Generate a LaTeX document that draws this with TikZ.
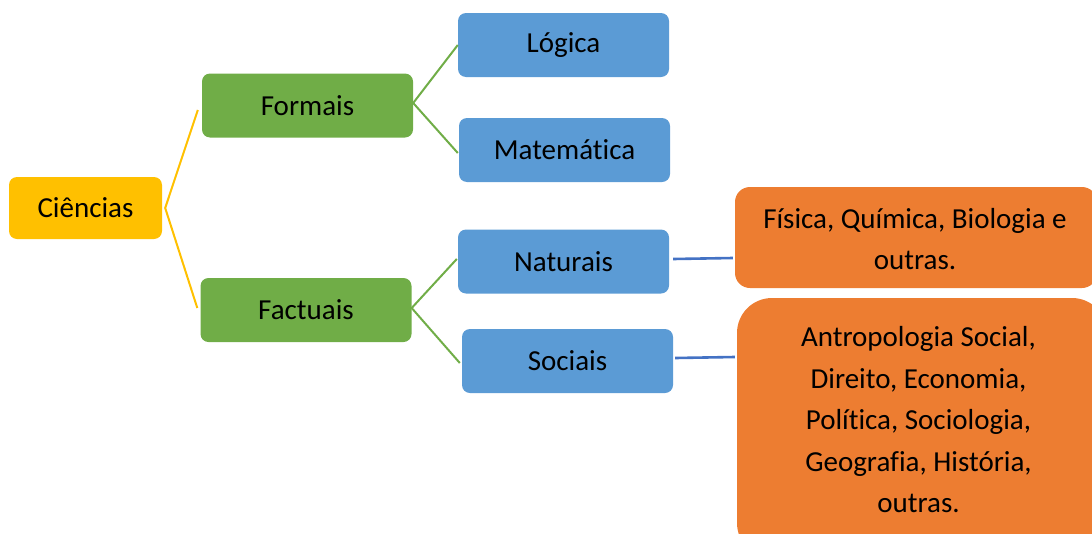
\documentclass[tikz,border=0pt]{standalone}
\usepackage{fontspec}
\setmainfont[Ligatures={NoCommon}]{Carlito}
\definecolor{cyellow}{HTML}{FFC000}
\definecolor{cgreen}{HTML}{70AD47}
\definecolor{cblue}{HTML}{5B9BD5}
\definecolor{corange}{HTML}{ED7D31}
\definecolor{clink}{HTML}{4472C4}
\tikzset{
  box/.style={rounded corners=8pt, inner sep=0pt, minimum width=211pt, minimum height=64pt, font=\fontsize{29}{35}\selectfont, text=black},
  ybox/.style={box, fill=cyellow, minimum width=153pt, minimum height=62pt},
  gbox/.style={box, fill=cgreen},
  bbox/.style={box, fill=cblue},
  obox/.style={inner sep=0pt, fill=corange},
  otext/.style={font=\fontsize{29}{41.5}\selectfont, align=center, inner sep=0pt, text=black},
  ylink/.style={draw=cyellow, line width=2pt},
  glink/.style={draw=cgreen, line width=2pt},
  blink/.style={draw=clink, line width=2.6pt},
}
\begin{document}
\begin{tikzpicture}[x=1pt,y=-1pt]
\useasboundingbox (0,0) rectangle (1092,533);
\clip (0,0) rectangle (1092,533);
\node[ybox] (cien) at (85.5,208) {Ciências};
\node[gbox] (form) at (307.5,105.5) {Formais};
\node[gbox] (fact) at (306,310) {Factuais};
\node[bbox] (log) at (563.5,45) {Lógica};
\node[bbox] (mat) at (564.5,150) {Matemática};
\node[bbox] (nat) at (563.5,261.5) {Naturais};
\node[bbox] (soc) at (567.5,361) {Sociais};
\node[obox, rounded corners=15pt, minimum width=362pt, minimum height=101pt] (fis) at (916,237.5) {};
\node[otext] (fist) at (915,239) {Física, Química, Biologia e\\outras.};
\node[obox, rounded corners=35pt, minimum width=370pt, minimum height=260pt] (antb) at (922,428) {};
\node[otext] (antt) at (918.5,420) {Antropologia Social,\\Direito, Economia,\\Política, Sociologia,\\Geografia, História,\\outras.};
\coordinate (c1) at ([xshift=3pt]cien.east);
\coordinate (f1) at ([xshift=-4pt,yshift=-4.5pt]form.west);
\coordinate (f2) at ([xshift=-3pt,yshift=2pt]fact.west);
\draw[ylink] (f1) -- (c1) -- (f2);
\coordinate (fo) at ([yshift=2.5pt]form.east);
\coordinate (ma) at ([xshift=-1pt,yshift=-3pt]mat.west);
\draw[glink] (log.west) -- (fo) -- (ma);
\coordinate (fa) at ([yshift=2pt]fact.east);
\coordinate (na) at ([xshift=-1pt,yshift=2.5pt]nat.west);
\coordinate (so) at ([xshift=-2pt,yshift=-2pt]soc.west);
\draw[glink] (na) -- (fa) -- (so);
\coordinate (n1) at ([xshift=4pt,yshift=2.5pt]nat.east);
\coordinate (n2) at ([xshift=-2pt,yshift=-20.5pt]fis.west);
\draw[blink] (n1) -- (n2);
\coordinate (s1) at ([xshift=2pt,yshift=3pt]soc.east);
\coordinate (s2) at ([xshift=-2pt,yshift=71pt]antb.west);
\draw[blink] (s1) -- (s2);
\end{tikzpicture}
\end{document}
